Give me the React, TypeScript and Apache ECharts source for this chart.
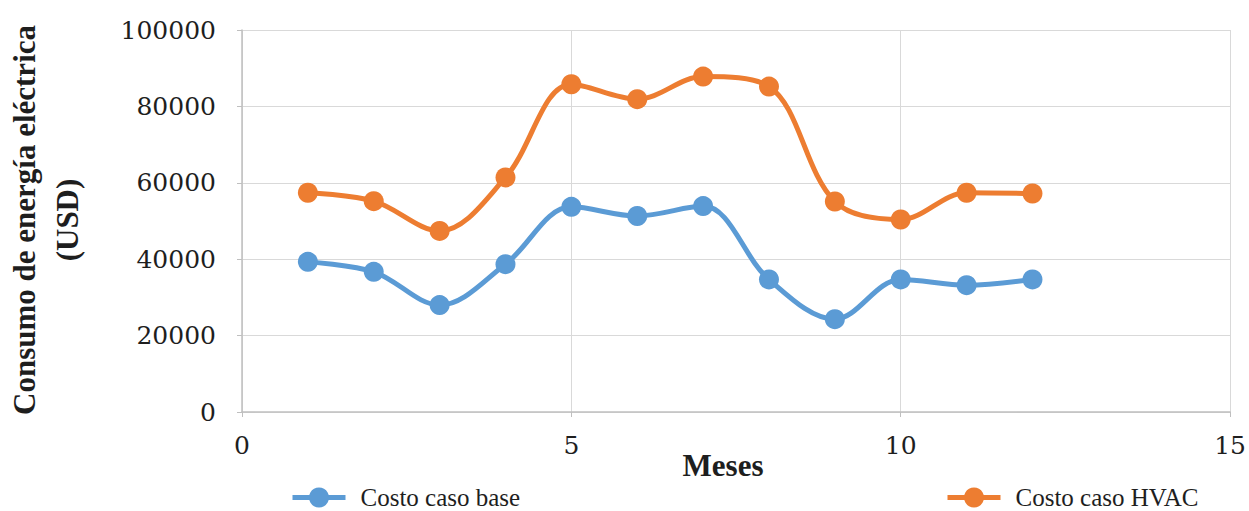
import React, { useEffect, useRef } from "react";
import * as echarts from "echarts";

// Months on the horizontal axis
const months = [1, 2, 3, 4, 5, 6, 7, 8, 9, 10, 11, 12];
// Monthly electricity cost (USD)
const costoBase = [39300, 36700, 28000, 38700, 53700, 51300, 53900, 34700, 24300, 34700, 33200, 34700];
const costoHVAC = [57400, 55200, 47400, 61400, 85800, 81900, 87800, 85200, 55100, 50400, 57400, 57200];

const seriesNames = ["Costo caso base", "Costo caso HVAC"];
const yAxisTitle = ["Consumo de energía eléctrica", "(USD)"];
const xAxisTitle = "Meses";

const BLUE = "#5B9BD5";
const ORANGE = "#ED7D31";
const GRID = "#d9d9d9";
const AXIS = "#bfbfbf";
const TEXT = "#1e1e1e";
const TICK_FONT = "'DejaVu Serif', serif";
const TITLE_FONT = "'Liberation Serif', 'Times New Roman', serif";

export default function App() {
  const ref = useRef<HTMLDivElement>(null);

  useEffect(() => {
    if (!ref.current) return;
    const chart = echarts.init(ref.current, undefined, { renderer: "svg" });

    const toPairs = (vals: number[]) => months.map((m, i) => [m, vals[i]]);

    const lineSeries = (name: string, vals: number[], color: string) => ({
      name,
      type: "line",
      data: toPairs(vals),
      smooth: 0.35,
      symbol: "circle",
      symbolSize: 20,
      itemStyle: { color },
      lineStyle: { color, width: 5 },
    });

    const legendBase = {
      orient: "horizontal",
      top: 485,
      padding: 0,
      itemWidth: 53,
      itemHeight: 25,
      lineStyle: { width: 5 },
      textStyle: {
        fontFamily: TITLE_FONT,
        fontSize: 25,
        lineHeight: 24,
        color: TEXT,
        padding: [0, 0, 0, 10],
      },
    };

    const plainNumber = (v: number) => String(v);

    chart.setOption({
      animation: false,
      backgroundColor: "#ffffff",
      grid: { left: 242, right: 13, top: 30, bottom: 99 },
      legend: [
        { ...legendBase, left: 290, data: [seriesNames[0]] },
        { ...legendBase, left: 945, data: [seriesNames[1]] },
      ],
      xAxis: {
        type: "value",
        min: 0,
        max: 15,
        interval: 5,
        axisLine: { show: true, lineStyle: { color: AXIS, width: 1.5 } },
        axisTick: { show: true, length: 5, lineStyle: { color: AXIS } },
        splitLine: { show: true, lineStyle: { color: GRID, width: 1 } },
        axisLabel: {
          margin: 21,
          fontFamily: TICK_FONT,
          fontSize: 25,
          color: TEXT,
          formatter: plainNumber,
        },
      },
      yAxis: {
        type: "value",
        min: 0,
        max: 100000,
        interval: 20000,
        axisLine: { show: true, lineStyle: { color: AXIS, width: 1.5 } },
        axisTick: { show: true, length: 5, lineStyle: { color: AXIS } },
        splitLine: { show: true, lineStyle: { color: GRID, width: 1 } },
        axisLabel: {
          margin: 26,
          fontFamily: TICK_FONT,
          fontSize: 25,
          color: TEXT,
          formatter: plainNumber,
        },
      },
      graphic: [
        {
          type: "text",
          x: 24,
          y: 220,
          rotation: Math.PI / 2,
          style: {
            text: yAxisTitle[0],
            fontFamily: TITLE_FONT,
            fontWeight: "bold",
            fontSize: 31,
            fill: TEXT,
            textAlign: "center",
            textVerticalAlign: "middle",
          },
        },
        {
          type: "text",
          x: 67,
          y: 220,
          rotation: Math.PI / 2,
          style: {
            text: yAxisTitle[1],
            fontFamily: TITLE_FONT,
            fontWeight: "bold",
            fontSize: 31,
            fill: TEXT,
            textAlign: "center",
            textVerticalAlign: "middle",
          },
        },
        {
          type: "text",
          x: 723,
          y: 465,
          style: {
            text: xAxisTitle,
            fontFamily: TITLE_FONT,
            fontWeight: "bold",
            fontSize: 31,
            fill: TEXT,
            textAlign: "center",
            textVerticalAlign: "middle",
          },
        },
      ],
      series: [
        lineSeries(seriesNames[0], costoBase, BLUE),
        lineSeries(seriesNames[1], costoHVAC, ORANGE),
      ],
    });

    return () => chart.dispose();
  }, []);

  return (
    <div
      ref={ref}
      style={{ position: "fixed", left: 0, top: 0, width: 1249, height: 511 }}
    />
  );
}
